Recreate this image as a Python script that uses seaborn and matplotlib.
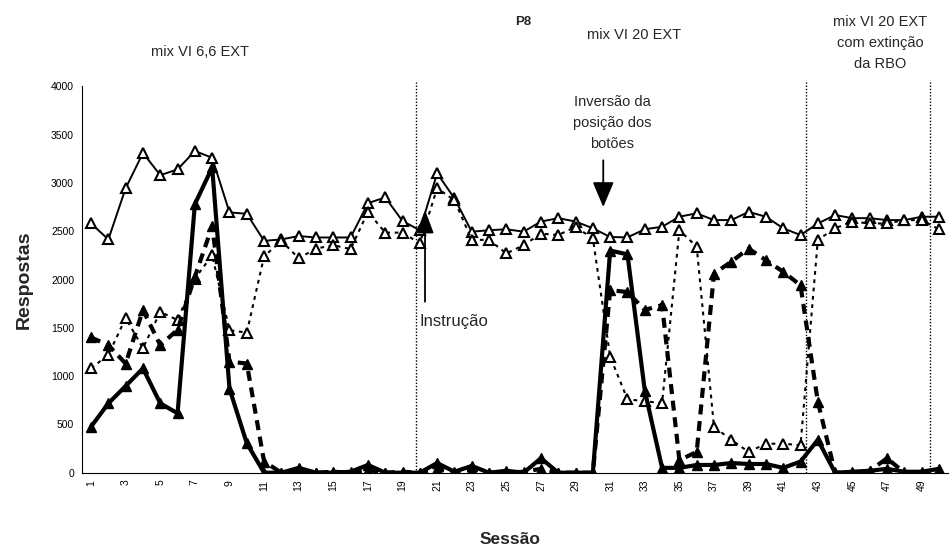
import numpy as np
import pandas as pd
import matplotlib
matplotlib.use("Agg")
import matplotlib.pyplot as plt
import seaborn as sns

# Sessions 1-50
sessions = list(range(1, 51))

# Thin solid line, open triangles
resp_total = [2580, 2415, 2945, 3310, 3080, 3140, 3330, 3260, 2695, 2680,
              2400, 2415, 2450, 2435, 2435, 2435, 2790, 2850, 2605, 2510,
              3100, 2840, 2495, 2510, 2520, 2495, 2600, 2635, 2600, 2530,
              2440, 2436, 2520, 2546, 2650, 2685, 2615, 2615, 2700, 2650,
              2530, 2460, 2580, 2667, 2635, 2635, 2615, 2615, 2650, 2650]

# Thick solid line, filled triangles
resp_b = [476, 718, 897, 1080, 718, 615, 2780, 3160, 870, 305,
          0, 0, 50, 0, 0, 10, 80, 0, 0, 0,
          100, 10, 70, 0, 20, 0, 150, 0, 0, 0,
          2300, 2260, 850, 50, 50, 80, 80, 100, 90, 90,
          50, 115, 340, 0, 10, 20, 40, 10, 10, 40]

# Thick dashed line, filled triangles
resp_c = [1400, 1320, 1130, 1685, 1320, 1480, 2030, 2550, 1150, 1130,
          115, 0, 20, 0, 10, 0, 30, 0, 10, 0,
          40, 0, 30, 0, 0, 10, 40, 0, 0, 0,
          1890, 1870, 1685, 1735, 130, 215, 2060, 2185, 2320, 2200,
          2080, 1940, 735, 0, 0, 20, 150, 0, 0, 30]

# Dotted line, open triangles
resp_d = [1080, 1220, 1600, 1290, 1665, 1580, 2010, 2250, 1475, 1450,
          2240, 2400, 2220, 2320, 2355, 2315, 2700, 2485, 2485, 2375,
          2945, 2820, 2410, 2410, 2270, 2355, 2475, 2460, 2545, 2425,
          1200, 760, 740, 720, 2510, 2340, 475, 340, 215, 300,
          300, 285, 2410, 2530, 2600, 2580, 2580, 2615, 2615, 2520]

# Phase boundaries (between sessions)
phase_lines = [19.75, 42.3, 49.5]

df = pd.DataFrame({"Sessão": sessions, "total": resp_total, "b": resp_b,
                   "c": resp_c, "d": resp_d})

sns.set_style("white")
plt.rcParams["font.family"] = ["Liberation Sans", "DejaVu Sans"]

W, H = 950, 560
fig = plt.figure(figsize=(W / 100, H / 100), dpi=100)
x0, x1, y0, y1 = 82.4, 947.6, 86.3, 472.7
ax = fig.add_axes([x0 / W, 1 - y1 / H, (x1 - x0) / W, (y1 - y0) / H])

common = dict(ax=ax, legend=False, errorbar=None, color="black", marker="^",
              markersize=7, markeredgecolor="black")

sns.lineplot(data=df, x="Sessão", y="total", lw=1.4, markerfacecolor="white",
             markeredgewidth=1.5, zorder=3, **common)
sns.lineplot(data=df, x="Sessão", y="d", lw=1.5, linestyle=(0, (1.8, 2.2)),
             markerfacecolor="white", markeredgewidth=1.5, zorder=4, **common)
sns.lineplot(data=df, x="Sessão", y="c", lw=3.0, linestyle=(0, (2.4, 1.6)),
             markerfacecolor="black", markeredgewidth=1.0, zorder=5, **common)
sns.lineplot(data=df, x="Sessão", y="b", lw=3.0, markerfacecolor="black",
             markeredgewidth=1.0, zorder=6, **common)

for xv in phase_lines:
    ax.axvline(xv, ymin=0, ymax=1.01, color="black", lw=1.0,
               linestyle=(0, (1, 1.3)), clip_on=False, zorder=2)

ax.set_xlim(0.5, 50.5)
ax.set_ylim(0, 4000)
ax.set_yticks(range(0, 4001, 500))
ax.set_xticks(range(1, 50, 2))
ax.set_xticklabels([str(s) for s in range(1, 50, 2)], rotation=90)
ax.set_xticks(np.arange(0.5, 51, 1), minor=True)
ax.tick_params(axis="y", direction="out", length=4, width=0.8, labelsize=7.5,
               pad=2, colors="black")
ax.tick_params(axis="x", which="major", length=0, labelsize=7.5, pad=5,
               colors="black")
ax.tick_params(axis="x", which="minor", direction="out", length=4, width=0.8)
for side in ("top", "right"):
    ax.spines[side].set_visible(False)
for side in ("left", "bottom"):
    ax.spines[side].set_color("black")
    ax.spines[side].set_linewidth(0.8)

ax.set_ylabel("Respostas", fontsize=14, fontweight="bold")
ax.yaxis.set_label_coords(-0.057, 0.5)
ax.set_xlabel("Sessão", fontsize=12.5, fontweight="bold")
ax.xaxis.set_label_coords(0.494, -0.153)

# Annotations inside the plot
ax.annotate("", xy=(20.3, 2720), xytext=(20.3, 1770),
            arrowprops=dict(arrowstyle="-|>,head_length=1.2,head_width=0.45",
                            mutation_scale=12, lw=1.3, color="black",
                            shrinkA=0, shrinkB=0), zorder=7)
ax.text(20.0, 1570, "Instrução", fontsize=12, ha="left", va="center")

ax.annotate("", xy=(30.6, 2750), xytext=(30.6, 3234),
            arrowprops=dict(arrowstyle="-|>,head_length=1.3,head_width=0.55",
                            mutation_scale=12, lw=1.3, color="black",
                            shrinkA=0, shrinkB=0), zorder=7)
ax.text(31.1, 3620, "Inversão da\nposição dos\nbotões", fontsize=10.5,
        ha="center", va="center", linespacing=1.6)

# Headings above the plot
def ftext(px, py, s, **kw):
    fig.text(px / W, 1 - py / H, s, ha="center", va="center", **kw)

ftext(523, 22, "P8", fontsize=9.5, fontweight="bold")
ftext(200, 52, "mix VI 6,6 EXT", fontsize=10.5)
ftext(634, 35, "mix VI 20 EXT", fontsize=10.5)
ftext(880, 43, "mix VI 20 EXT\ncom extinção\nda RBO", fontsize=10.5,
      linespacing=1.6)

fig.savefig("out.png", dpi=100)
